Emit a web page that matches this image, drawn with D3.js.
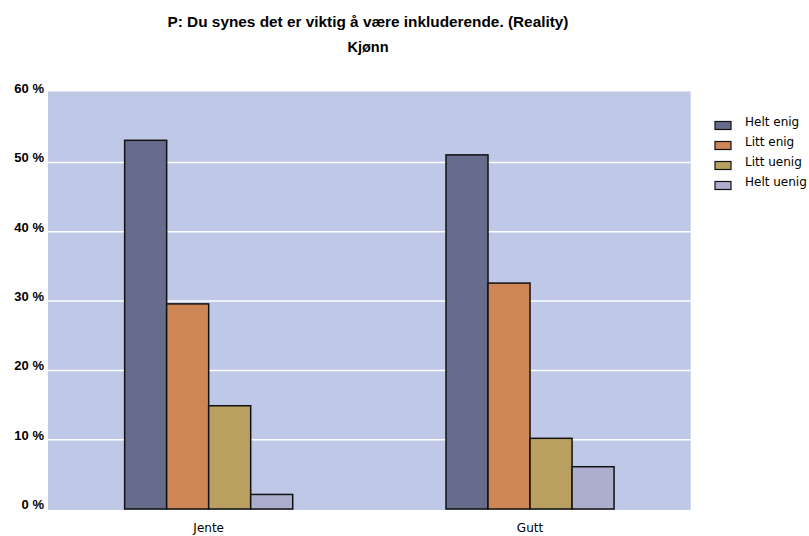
<!DOCTYPE html>
<html><head><meta charset="utf-8">
<script src="https://cdn.jsdelivr.net/npm/d3@7"></script>
<style>body{margin:0;background:#fff}svg{display:block}</style>
</head><body>
<script>
const categories = ["Jente", "Gutt"];
const seriesNames = ["Helt enig", "Litt enig", "Litt uenig", "Helt uenig"];
const heltEnig = [53.2, 51.1];
const littEnig = [29.6, 32.6];
const littUenig = [14.9, 10.2];
const heltUenig = [2.1, 6.1];
const yTicks = [0, 10, 20, 30, 40, 50, 60];
const colors = ["#676C8C", "#CF8657", "#B9A060", "#ADAECE"];
const title1 = "P: Du synes det er viktig å være inkluderende. (Reality)";
const title2 = "Kjønn";

const seriesValues = [heltEnig, littEnig, littUenig, heltUenig];

const W = 809, H = 536;
const svg = d3.select("body").append("svg").attr("width", W).attr("height", H);

const pLeft = 48, pRight = 690.7, pTop = 91.5, pBottom = 509;
const x0 = d3.scaleBand().domain(categories).range([pLeft, pRight]).paddingInner(0.477).paddingOuter(0.2385);
const x1 = d3.scaleBand().domain(seriesNames).range([0, x0.bandwidth()]);
const y = d3.scaleLinear().domain([0, 60]).range([pBottom, 93.2]);

svg.append("rect").attr("x", pLeft).attr("y", pTop).attr("width", pRight - pLeft).attr("height", 510 - pTop).attr("fill", "#BFC8E6");

// gridlines
svg.append("g").selectAll("line").data(yTicks.filter(d => d > 0 && d < 60)).join("line")
  .attr("x1", pLeft).attr("x2", pRight)
  .attr("y1", d => y(d)).attr("y2", d => y(d))
  .attr("stroke", "#FFFFFF").attr("stroke-width", 1.5);

// y axis labels
const yAxis = d3.axisLeft(y).tickValues(yTicks).tickFormat(d => d + " %").tickSize(0).tickPadding(4);
const ya = svg.append("g").attr("transform", `translate(${pLeft},0)`).call(yAxis);
ya.select(".domain").remove();
ya.selectAll("text").attr("font-family", "'Liberation Sans Narrow', 'Liberation Sans', sans-serif")
  .attr("font-weight", "bold").attr("font-size", 13).attr("fill", "#000").attr("dy", "-0.05em");

// bars
const groups = svg.append("g").selectAll("g").data(categories).join("g")
  .attr("transform", d => `translate(${x0(d)},0)`);
groups.selectAll("rect").data((d, i) => seriesNames.map((s, j) => ({s, v: seriesValues[j][i], j}))).join("rect")
  .attr("x", d => x1(d.s)).attr("width", x1.bandwidth())
  .attr("y", d => y(d.v)).attr("height", d => y(0) - y(d.v))
  .attr("fill", d => colors[d.j]).attr("stroke", "#111").attr("stroke-width", 1.5);

// x axis labels
const xAxis = d3.axisBottom(x0).tickSize(0).tickPadding(0);
const xa = svg.append("g").attr("transform", `translate(0,523)`).call(xAxis);
xa.select(".domain").remove();
xa.selectAll("text").attr("font-family", "'DejaVu Sans', sans-serif").attr("font-size", 12).attr("fill", "#000");

// titles
svg.append("text").attr("x", 368).attr("y", 27).attr("text-anchor", "middle")
  .attr("font-family", "'Liberation Sans Narrow', 'Liberation Sans', sans-serif").attr("font-weight", "bold").attr("font-size", 14.5)
  .attr("textLength", 401).attr("lengthAdjust", "spacingAndGlyphs")
  .text(title1);
svg.append("text").attr("x", 368).attr("y", 52).attr("text-anchor", "middle")
  .attr("font-family", "'Liberation Sans Narrow', 'Liberation Sans', sans-serif").attr("font-weight", "bold").attr("font-size", 14.5)
  .text(title2);

// legend
const leg = svg.append("g").selectAll("g").data(seriesNames).join("g")
  .attr("transform", (d, i) => `translate(715,${121.5 + i * 20})`);
leg.append("rect").attr("width", 16).attr("height", 8).attr("fill", (d, i) => colors[i]).attr("stroke", "#111").attr("stroke-width", 1.2);
leg.append("text").attr("x", 30).attr("y", 4).attr("font-family", "'DejaVu Sans', sans-serif").attr("font-size", 12).attr("fill", "#000").text(d => d);
</script>
</body></html>
